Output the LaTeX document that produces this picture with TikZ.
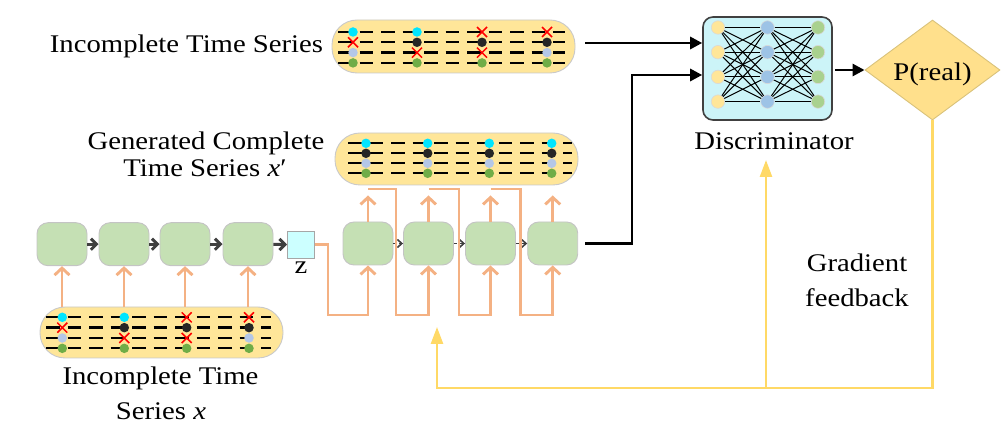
\documentclass[tikz,border=0pt]{standalone}
\usepackage{fontspec}
\setmainfont{Liberation Serif}[FakeStretch=1.13]
\usetikzlibrary{arrows.meta,shapes.geometric,shapes.misc,calc}
\definecolor{pillfill}{HTML}{FFE699}
\definecolor{pillline}{HTML}{C9C9C9}
\definecolor{boxgreen}{HTML}{C5E0B4}
\definecolor{boxline}{HTML}{C4C4C4}
\definecolor{orangeline}{HTML}{F4B183}
\definecolor{yellowline}{HTML}{FFD966}
\definecolor{darkarrow}{HTML}{404040}
\definecolor{discfill}{HTML}{CCF4F8}
\definecolor{zfill}{HTML}{CCFFFF}
\definecolor{dotcyan}{HTML}{00E5FF}
\definecolor{dotblack}{HTML}{262626}
\definecolor{dotblue}{HTML}{B4C7E7}
\definecolor{dotgreen}{HTML}{70AD47}
\definecolor{nnyellow}{HTML}{FFE699}
\definecolor{nnblue}{HTML}{9DC3E6}
\definecolor{nngreen}{HTML}{A9D18E}
\definecolor{diamondfill}{HTML}{FFE08C}
\definecolor{diamondline}{HTML}{D9C27A}

\newcommand\tsrows[4]{%
  \foreach \k in {0,...,3} {\draw[rowdash] (#1,{#3+\k*#4}) -- (#2,{#3+\k*#4});}}
\newcommand\tsdots[3]{%
  \foreach \cx/\codes in {#3} {%
    \foreach \code [count=\r] in \codes {%
      \node[tsdot/.expanded=\code] at (\cx,{#1+(\r-1)*#2}) {};}}}

\begin{document}
\begin{tikzpicture}[x=1pt,y=-1pt,
  lbl/.style={font=\fontsize{25.4}{30}\selectfont, inner sep=0pt, anchor=base},
  pill/.style={draw=pillline, fill=pillfill, line width=0.9pt, rounded corners=25pt,
    minimum width=243pt, inner sep=0pt},
  rowdash/.style={black, line width=2.3pt, dash pattern=on 13.5pt off 8pt},
  tsdot/.style={ts#1},
  tsbase/.style={circle, inner sep=0pt, minimum size=9.5pt},
  tsc/.style={tsbase, fill=dotcyan},
  tsk/.style={tsbase, fill=dotblack},
  tsb/.style={tsbase, fill=dotblue},
  tsg/.style={tsbase, fill=dotgreen},
  tsx/.style={cross out, draw=red, line width=1.5pt, inner sep=0pt, minimum size=8.5pt},
  cell/.style={draw=boxline, fill=boxgreen, line width=0.9pt, rounded corners=11pt,
    minimum width=50pt, minimum height=43pt, inner sep=0pt},
  encarrow/.style={darkarrow, line width=3pt, -{Straight Barb[length=5.5pt,width=11pt]}},
  decarrow/.style={darkarrow, line width=1.6pt, dash pattern=on 3.5pt off 2pt,
    -{Straight Barb[length=4.5pt,width=8pt]}},
  orangearrow/.style={orangeline, line width=2.9pt, -{Straight Barb[length=7pt,width=15pt]}},
  blackarrow/.style={black, line width=2.8pt, -{Triangle[length=12pt,width=12pt]}},
  yellowarrow/.style={yellowline, line width=2.5pt, -{Triangle[length=17pt,width=12pt]}},
  nn/.style={circle, draw=black!15, line width=0.6pt, inner sep=0pt, minimum size=13.5pt},
  nnedge/.style={black, line width=1pt}
]
\useasboundingbox (0,0) rectangle (1007,435);

% ---------- pills (time series) ----------
\node[pill, minimum height=53pt] (T) at (453.5,46.5) {};
\tsrows{338}{565}{32}{10.3}
\tsdots{32}{10.3}{353/{c,x,b,g}, 417/{c,k,x,g}, 482/{x,k,x,g}, 547/{x,k,b,g}}

\node[pill, minimum height=52pt] (G) at (456.5,159) {};
\tsrows{348}{572}{143.3}{10}
\tsdots{143.3}{10}{366/{c,k,b,g}, 427.7/{c,k,b,g}, 489.3/{c,k,b,g}, 551.7/{c,k,b,g}}

\node[pill, minimum height=51pt] (P1) at (161.5,332.5) {};
\tsrows{46}{271}{317.3}{10.35}
\tsdots{317.3}{10.35}{62.3/{c,x,b,g}, 124.3/{c,k,x,g}, 186.7/{x,k,x,g}, 249/{x,k,b,g}}

% ---------- labels ----------
\node[lbl] (lblTop) at (186.5,52.7) {Incomplete Time Series};
\node[lbl] (lblGenA) at (206,149.3) {Generated Complete};
\node[lbl] (lblGenB) at (205,176.7) {Time Series \textit{x}′};
\node[lbl] (lblInA) at (160.5,384.3) {Incomplete Time};
\node[lbl] (lblInB) at (161,419.3) {Series \textit{x}};
\node[lbl] (lblDisc) at (774,149.3) {Discriminator};
\node[lbl] (lblGradA) at (857,271.7) {Gradient};
\node[lbl] (lblGradB) at (857,306.7) {feedback};

% ---------- encoder ----------
\node[cell] (e1) at (62,244.2) {};
\node[cell] (e2) at (124,244.2) {};
\node[cell] (e3) at (185,244.2) {};
\node[cell] (e4) at (248,244.2) {};
\node[draw=black!35, fill=zfill, line width=0.9pt, minimum size=27pt, inner sep=0pt] (z) at (301,244.7) {};
\node[lbl] (zlbl) at (301,274) {z};

\draw[encarrow] (e1) -- (e2);
\draw[encarrow] (e2) -- (e3);
\draw[encarrow] (e3) -- (e4);
\draw[encarrow] (e4) -- (z);

\foreach \i in {1,...,4} {\draw[orangearrow] (P1.north -| e\i.south) -- (e\i.south);}

% ---------- decoder ----------
\node[cell] (d1) at (368,243.5) {};
\node[cell] (d2) at (428.5,243.5) {};
\node[cell] (d3) at (490.5,243.5) {};
\node[cell] (d4) at (552.7,243.5) {};

\draw[decarrow] (d1) -- (d2);
\draw[decarrow] (d2) -- (d3);
\draw[decarrow] (d3) -- (d4);

\foreach \i in {1,...,4} {\draw[orangearrow, shorten >=10pt] (d\i.north) -- (G.south -| d\i.north);}

\coordinate (ybot) at (0,315);
\coordinate (ytop) at (0,189);
\draw[orangearrow] (z.east) -- (328,244.7) -- (328,315) -| (d1.south);
\draw[orangearrow] (d1.north |- ytop) -- (396,189) -- (396,315) -| (d2.south);
\draw[orangearrow] (d2.north |- ytop) -- (459,189) -- (459,315) -| (d3.south);
\draw[orangearrow] (d3.north |- ytop) -- (520.7,189) -- (520.7,315) -| (d4.south);

% ---------- discriminator ----------
\node[draw=darkarrow, fill=discfill, line width=1.6pt, rounded corners=10pt,
  minimum width=129pt, minimum height=103pt, inner sep=0pt] (D) at (767.5,68.5) {};
\foreach \i/\xx/\col in {1/718/nnyellow, 2/767.5/nnblue, 3/818/nngreen} {
  \foreach \j in {1,...,4} {
    \node[nn, fill=\col] (n\i\j) at (\xx,{27.5+(\j-1)*24.7}) {};}}
\foreach \j in {1,...,4} {
  \foreach \k in {1,...,4} {
    \draw[nnedge] (n1\j) -- (n2\k);
    \draw[nnedge] (n2\j) -- (n3\k);}}

\node[diamond, aspect=1.35, draw=diamondline, fill=diamondfill, line width=0.9pt,
  minimum width=135pt, minimum height=100pt, inner sep=0pt,
  font=\fontsize{25.4}{30}\selectfont, text height=21.4pt, text depth=0pt] (P) at (932.5,70) {P(real)};

\coordinate (rowA) at (0,43);
\coordinate (rowB) at (0,75);
\coordinate (bend) at (632,0);
\draw[blackarrow, shorten <=10pt] (T.east |- rowA) -- (D.west |- rowA);
\draw[blackarrow, shorten <=7pt, line join=miter] (d4.east) -- (d4.east -| bend) -- (bend |- rowB) -- (D.west |- rowB);
\draw[blackarrow, shorten <=2pt] (D.east |- P.west) -- (P.west);

% ---------- gradient feedback ----------
\coordinate (ybase) at (0,388);
\coordinate (fbG) at (437,327);
\coordinate (fbD) at (766,160);
\draw[yellowarrow] (P.south) -- (P.south |- ybase) -- (fbG |- ybase) -- (fbG);
\draw[yellowarrow] (fbD |- ybase) -- (fbD);
\end{tikzpicture}
\end{document}
